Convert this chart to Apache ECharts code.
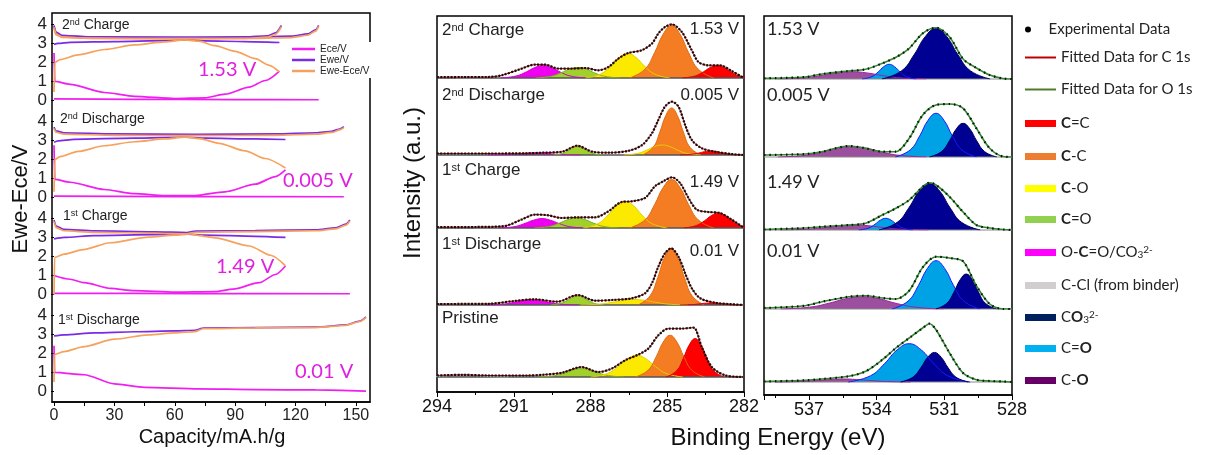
<!DOCTYPE html>
<html><head><meta charset="utf-8">
<script src="https://cdn.jsdelivr.net/npm/echarts@6/dist/echarts.min.js"></script>
<style>html,body{margin:0;padding:0;background:#fff}#c{width:1205px;height:455px}</style>
</head><body><div id="c"></div>
<script>
// ---------------- DATA ----------------
const panelLabels = ['2nd Charge', '2nd Discharge', '1st Charge', '1st Discharge', 'Pristine'];
const voltages = ['1.53 V', '0.005 V', '1.49 V', '0.01 V'];
const capTicks = [0, 30, 60, 90, 120, 150];
const capTickMarks = [0, 15, 30, 45, 60, 75, 90, 105, 120, 135, 150];
const voltTicks = [0, 1, 2, 3, 4];

// Left panel: [capacity mA.h/g, V]
// 2nd Charge
const ch2_EceCharge = [[0,0.08],[40,0.06],[90,0.05],[131.5,0.04]];
const ch2_EceDis = [[0,2.5],[0.4,1.0],[8,0.85],[25,0.42],[40,0.22],[60,0.1],[75,0.14],[85,0.33],[97,0.7],[105,1.05],[112,1.55]];
const ch2_EweCharge1 = [[0,3.95],[1,3.6],[4,3.42],[15,3.35],[40,3.32],[70,3.32],[95,3.34],[106,3.4],[110,3.55],[113,3.95]];
const ch2_EweCharge2 = [[0,3.9],[1,3.55],[4,3.4],[20,3.34],[60,3.32],[100,3.33],[118,3.38],[126,3.5],[130,3.72],[131.5,3.95]];
const ch2_EweDis = [[0,2.95],[2,3.0],[8,3.06],[30,3.1],[55,3.15],[68,3.2],[75,3.13],[95,3.1],[112,3.05]];
const ch2_DiffCharge1 = [[0,3.85],[1,3.5],[4,3.34],[15,3.28],[40,3.25],[70,3.25],[95,3.27],[106,3.33],[110,3.48],[113,3.88]];
const ch2_DiffCharge2 = [[0,3.8],[1,3.45],[4,3.32],[20,3.27],[60,3.25],[100,3.26],[118,3.31],[126,3.43],[130,3.65],[131.5,3.9]];
const ch2_DiffDis = [[0,0.45],[0.4,2.0],[3,2.15],[12,2.4],[25,2.68],[40,2.92],[55,3.08],[65,3.18],[72,3.12],[80,2.88],[90,2.58],[100,2.2],[107,1.85],[112,1.5]];
// 2nd Discharge
const dis2_EceCharge = [[0,0.07],[60,0.05],[144,0.04]];
const dis2_EceDis = [[0,2.75],[0.4,0.95],[8,0.8],[25,0.42],[40,0.2],[55,0.1],[70,0.1],[85,0.3],[100,0.7],[110,1.1],[115,1.45]];
const dis2_EweCharge = [[0,3.7],[1,3.5],[5,3.4],[30,3.34],[70,3.32],[110,3.34],[130,3.4],[138,3.48],[142,3.6],[144,3.72]];
const dis2_EweDis = [[0,2.9],[2,2.98],[10,3.06],[40,3.12],[65,3.18],[75,3.12],[100,3.08],[115,3.05]];
const dis2_DiffCharge = [[0,3.62],[1,3.43],[5,3.33],[30,3.27],[70,3.25],[110,3.27],[130,3.33],[138,3.42],[142,3.55],[144,3.67]];
const dis2_DiffDis = [[0,0.3],[0.4,2.0],[3,2.15],[12,2.42],[25,2.72],[40,2.93],[55,3.08],[65,3.17],[72,3.1],[82,2.85],[95,2.45],[105,2.05],[115,1.55]];
// 1st Charge
const ch1_EceCharge = [[0,0.06],[70,0.05],[147,0.04]];
const ch1_EceDis = [[0,1.0],[8,0.8],[15,0.62],[28,0.32],[40,0.2],[60,0.12],[80,0.15],[89,0.28],[102,0.62],[110,1.05],[115,1.5]];
const ch1_EweCharge = [[0,3.92],[1,3.6],[5,3.42],[20,3.34],[50,3.29],[66,3.26],[70,3.33],[100,3.36],[130,3.4],[140,3.5],[145,3.7],[147,3.92]];
const ch1_EweDis = [[0,2.92],[5,3.0],[20,3.1],[50,3.15],[65,3.18],[75,3.12],[100,3.06],[115,3.0]];
const ch1_DiffCharge = [[0,3.83],[1,3.52],[5,3.35],[20,3.27],[50,3.22],[66,3.19],[70,3.27],[100,3.31],[130,3.35],[140,3.45],[145,3.65],[147,3.87]];
const ch1_DiffDis = [[0,0],[0.3,1.95],[5,2.12],[14.5,2.36],[28,2.72],[47,3.02],[60,3.12],[68,3.18],[72,3.1],[80,2.98],[97,2.55],[108,2.05],[115,1.5]];
// 1st Discharge
const dis1_Ece = [[0,2.4],[0.3,1.0],[15,0.88],[30,0.4],[45,0.22],[72,0.14],[100,0.1],[130,0.08],[155,0.02]];
const dis1_Ewe = [[0,2.92],[5,2.98],[20,3.08],[40,3.14],[60,3.19],[70,3.22],[74,3.33],[100,3.36],[130,3.38],[145,3.5],[152,3.7],[155,3.92]];
const dis1_Diff = [[0,0.5],[0.3,1.95],[5,2.1],[15,2.36],[30,2.75],[47,2.98],[60,3.08],[70,3.15],[74,3.3],[100,3.34],[130,3.36],[145,3.48],[152,3.68],[155,3.9]];

// C 1s spectra: [binding energy eV, intensity a.u.]
const c1s_ch2_OCO = [[291.5,0],[290.9,2.1],[290.51,6.1],[290.18,10.4],[289.85,12.5],[289.52,10.4],[289.19,6.1],[288.81,2.1],[288.2,0]];
const c1s_ch2_CdO = [[290.15,0],[289.55,1.7],[289.16,5.1],[288.83,8.8],[288.5,10.5],[288.17,8.8],[287.84,5.1],[287.45,1.7],[286.85,0]];
const c1s_ch2_CO  = [[288.2,0],[287.6,4.0],[287.21,11.9],[286.88,20.5],[286.55,24.5],[286.22,20.5],[285.89,11.9],[285.5,4.0],[284.9,0]];
const c1s_ch2_CC  = [[286.48,0],[285.88,8.6],[285.49,25.6],[285.16,43.8],[284.83,52.5],[284.5,43.8],[284.17,25.6],[283.78,8.6],[283.18,0]];
const c1s_ch2_CdC = [[284.4,0],[283.9,2.1],[283.59,6.1],[283.32,10.4],[283.05,12.5],[282.78,10.4],[282.51,6.1],[282.2,2.1],[281.7,0]];
const c1s_ch2_env = [[294,0.8],[293,1],[292,1],[291.47,2.7],[290.69,9.4],[290.17,13.4],[289.78,13.4],[289.26,9.4],[288.73,9.4],[288.21,10],[287.69,7.7],[287.3,11],[286.91,19.4],[286.52,25],[286.0,27.7],[285.6,34.4],[285.35,44.4],[285.09,51],[284.82,53.7],[284.43,46],[284.04,27.7],[283.78,16],[283.39,12.7],[282.94,12.7],[282.48,7],[282.03,0.4]];

const c1s_dis2_OCO = [[292,0],[291.34,0.3],[290.92,1],[290.56,1.7],[290.2,2],[289.84,1.7],[289.48,1],[289.06,0.3],[288.4,0]];
const c1s_dis2_CdO = [[289.46,0],[289.11,1.4],[288.88,4.1],[288.69,7.1],[288.5,8.5],[288.31,7.1],[288.12,4.1],[287.89,1.4],[287.54,0]];
const c1s_dis2_CO  = [[286.7,0],[286.15,1.6],[285.8,4.9],[285.5,8.4],[285.2,10],[284.9,8.4],[284.6,4.9],[284.25,1.6],[283.7,0]];
const c1s_dis2_CC  = [[285.97,0],[285.55,7.7],[285.29,22.9],[285.06,39.2],[284.83,47],[284.6,39.2],[284.37,22.9],[284.11,7.7],[283.69,0]];
const c1s_dis2_CdC = [[284.5,0],[284.06,0.7],[283.78,1.9],[283.54,3.3],[283.3,4],[283.06,3.3],[282.82,1.9],[282.54,0.7],[282.1,0]];
const c1s_dis2_env = [[294,1.5],[292,1.5],[290.5,1.7],[289.9,2.3],[289.1,3.3],[288.52,9.3],[287.93,3.3],[287.28,2.3],[286.5,4.3],[285.98,10],[285.6,21.7],[285.35,35],[285.09,48.3],[284.82,53.3],[284.56,48.3],[284.3,30],[284.04,15],[283.65,6.7],[283.13,3.3],[282.5,1],[282.03,0]];

const c1s_ch1_OCO = [[291.55,0],[290.95,1.5],[290.56,4.6],[290.23,7.8],[289.9,9.4],[289.57,7.8],[289.24,4.6],[288.85,1.5],[288.25,0]];
const c1s_ch1_CdO = [[290.2,0],[289.6,1.6],[289.21,4.9],[288.88,8.4],[288.55,10],[288.22,8.4],[287.89,4.9],[287.5,1.6],[286.9,0]];
const c1s_ch1_CO  = [[288.3,0],[287.7,4.4],[287.31,13],[286.98,22.3],[286.65,26.7],[286.32,22.3],[285.99,13],[285.6,4.4],[285.0,0]];
const c1s_ch1_CC  = [[286.48,0],[285.88,7.9],[285.49,23.6],[285.16,40.4],[284.83,48.4],[284.5,40.4],[284.17,23.6],[283.78,7.9],[283.18,0]];
const c1s_ch1_CdC = [[284.35,0],[283.86,2.5],[283.54,7.3],[283.27,12.5],[283.0,15],[282.73,12.5],[282.46,7.3],[282.15,2.5],[281.65,0]];
const c1s_ch1_env = [[294,0.8],[292.5,1],[291.35,2],[290.7,8.4],[290.17,13.4],[289.65,12.7],[289.13,10],[288.47,10.7],[287.82,10.7],[287.3,16.7],[286.78,26],[286.39,26.7],[285.87,30],[285.48,41.7],[285.15,46.7],[284.82,50.7],[284.5,45],[284.17,30],[283.85,18.4],[283.39,16],[282.94,15],[282.48,8.4],[282.03,0.7]];

const c1s_dis1_OCO = [[292.1,0],[291.44,0.8],[291.02,2.4],[290.66,4.2],[290.3,5],[289.94,4.2],[289.58,2.4],[289.16,0.8],[288.5,0]];
const c1s_dis1_CdO = [[289.55,0],[289.17,1.5],[288.92,4.4],[288.71,7.5],[288.5,9],[288.29,7.5],[288.08,4.4],[287.84,1.5],[287.45,0]];
const c1s_dis1_CO  = [[288.4,0],[287.63,0.9],[287.14,2.7],[286.72,4.6],[286.3,5.5],[285.88,4.6],[285.46,2.7],[284.97,0.9],[284.2,0]];
const c1s_dis1_CC  = [[286.14,0],[285.67,9.3],[285.37,27.6],[285.11,47.3],[284.85,56.7],[284.59,47.3],[284.33,27.6],[284.03,9.3],[283.56,0]];
const c1s_dis1_CdC = [[284.5,0],[284.06,0.3],[283.78,1],[283.54,1.7],[283.3,2],[283.06,1.7],[282.82,1],[282.54,0.3],[282.1,0]];
const c1s_dis1_env = [[294,1],[292,1.2],[290.98,4],[290.2,5.7],[289.3,3.3],[288.5,10],[287.82,4.3],[287.17,5],[286.39,6.7],[285.87,11.7],[285.6,21.7],[285.35,38.3],[285.09,51.7],[284.85,56.7],[284.56,48.3],[284.3,31.7],[284.04,16.7],[283.71,6.7],[283.13,2.3],[282.5,0.8],[282.03,0]];

const c1s_pri_CCl = [[294.8,0],[294.14,0.3],[293.72,1],[293.36,1.7],[293,2],[292.64,1.7],[292.28,1],[291.86,0.3],[291.2,0]];
const c1s_pri_CdO = [[290,0],[289.4,1.4],[289.01,4.1],[288.68,7],[288.35,8.4],[288.02,7],[287.69,4.1],[287.3,1.4],[286.7,0]];
const c1s_pri_CO  = [[287.99,0],[287.33,3.6],[286.91,10.6],[286.55,18.1],[286.19,21.7],[285.83,18.1],[285.47,10.6],[285.05,3.6],[284.39,0]];
const c1s_pri_CC  = [[286.24,0],[285.75,6.8],[285.43,20.3],[285.16,34.8],[284.89,41.7],[284.62,34.8],[284.35,20.3],[284.04,6.8],[283.54,0]];
const c1s_pri_CdC = [[285.05,0],[284.63,6.3],[284.37,18.7],[284.14,32.1],[283.91,38.4],[283.68,32.1],[283.45,18.7],[283.19,6.3],[282.77,0]];
const c1s_pri_env = [[294,1.5],[293,2.2],[292,1.5],[290.5,1.5],[289.8,2.3],[289.1,4.4],[288.35,10],[287.69,5],[287.17,8.4],[286.65,16.7],[286.13,22.4],[285.74,28.4],[285.35,41.7],[284.95,48.4],[284.43,48.4],[283.98,49.4],[283.65,30],[283.26,10],[282.74,1.7],[282.03,0]];
const c1s_background = [[294,0],[282,0]];

// O 1s spectra
const o1s_ch2_CO  = [[538.4,0],[537.19,1.2],[536.42,3.6],[535.76,6.1],[535.1,7.3],[534.44,6.1],[533.78,3.6],[533.01,1.2],[531.8,0]];
const o1s_ch2_CdO = [[534.65,0],[534.21,2.4],[533.93,7.2],[533.69,12.3],[533.45,14.7],[533.21,12.3],[532.97,7.2],[532.69,2.4],[532.25,0]];
const o1s_ch2_CO3 = [[533.77,0],[532.89,8.3],[532.33,24.7],[531.85,42.3],[531.37,50.7],[530.89,42.3],[530.41,24.7],[529.85,8.3],[528.97,0]];
const o1s_ch2_env = [[539,0.7],[537.17,2],[536.42,5],[535.24,8],[534.49,9.7],[533.75,15.7],[533.15,21.7],[532.56,30.7],[531.96,45.7],[531.37,51.3],[530.77,42],[530.17,20],[529.58,11],[528.99,4],[528.4,0.5],[528,0]];

const o1s_dis2_CO  = [[538.39,0],[537.18,1.7],[536.41,5],[535.75,8.6],[535.09,10.3],[534.43,8.6],[533.77,5],[533.0,1.7],[531.79,0]];
const o1s_dis2_CdO = [[533.17,0],[532.51,7.2],[532.09,21.3],[531.73,36.5],[531.37,43.7],[531.01,36.5],[530.65,21.3],[530.23,7.2],[529.57,0]];
const o1s_dis2_CO3 = [[531.67,0],[531.12,5.5],[530.77,16.4],[530.47,28.1],[530.17,33.7],[529.87,28.1],[529.57,16.4],[529.22,5.5],[528.67,0]];
const o1s_dis2_env = [[539,2],[537.17,3],[536.42,5.3],[535.24,11],[534.49,8.7],[533.75,5.3],[533.15,5.3],[532.56,18.7],[531.96,42],[531.37,52],[530.77,53],[530.17,48.7],[529.58,28.7],[528.99,8.7],[528.4,0.5],[528,0]];

const o1s_ch1_CO  = [[538.3,0],[537.09,0.8],[536.32,2.4],[535.66,4.2],[535,5],[534.34,4.2],[533.68,2.4],[532.91,0.8],[531.7,0]];
const o1s_ch1_CdO = [[534.8,0],[534.36,1.9],[534.08,5.7],[533.84,9.8],[533.6,11.7],[533.36,9.8],[533.12,5.7],[532.84,1.9],[532.4,0]];
const o1s_ch1_CO3 = [[533.91,0],[533.09,7.7],[532.56,22.7],[532.11,39],[531.66,46.7],[531.21,39],[530.76,22.7],[530.24,7.7],[529.41,0]];
const o1s_ch1_env = [[539,0.5],[537.17,2],[536.42,3.3],[535.24,5],[534.49,6.7],[533.75,15],[533.15,21.7],[532.56,30],[531.96,43.3],[531.66,47.3],[531.37,45],[530.77,33.3],[530.17,18],[529.58,5],[528.99,2],[528.4,0.5],[528,0]];

const o1s_dis1_CO  = [[538.24,0],[536.92,2],[536.08,6],[535.36,10.3],[534.64,12.3],[533.92,10.3],[533.2,6],[532.36,2],[531.04,0]];
const o1s_dis1_CdO = [[533.32,0],[532.61,7.9],[532.15,23.5],[531.76,40.3],[531.37,48.3],[530.98,40.3],[530.59,23.5],[530.14,7.9],[529.42,0]];
const o1s_dis1_CO3 = [[531.38,0],[530.89,5.7],[530.57,17],[530.3,29.2],[530.03,35],[529.76,29.2],[529.49,17],[529.18,5.7],[528.68,0]];
const o1s_dis1_env = [[539,1],[537.17,3.3],[536.42,7.3],[535.24,12.3],[534.49,13.3],[533.75,11],[533.15,10],[532.56,18.3],[531.96,41.7],[531.37,52.3],[530.77,51],[530.17,47.7],[529.58,23.3],[528.99,5],[528.4,0],[528,0]];

const o1s_pri_CO  = [[538.5,0],[537.4,0.5],[536.7,1.5],[536.1,2.5],[535.5,3],[534.9,2.5],[534.3,1.5],[533.6,0.5],[532.5,0]];
const o1s_pri_CdO = [[535.26,0],[534.27,6.3],[533.64,18.7],[533.1,32],[532.56,38.3],[532.02,32],[531.48,18.7],[530.85,6.3],[529.86,0]];
const o1s_pri_CO3 = [[532.94,0],[532.39,4.9],[532.04,14.4],[531.74,24.7],[531.44,29.6],[531.14,24.7],[530.84,14.4],[530.49,4.9],[529.94,0]];
const o1s_pri_env = [[539,0.5],[537.17,1.7],[536.42,3],[535.24,5.7],[534.49,10.7],[533.75,22.3],[533.15,34],[532.56,44],[531.96,54],[531.66,58.3],[531.37,52.3],[530.77,29],[530.17,9],[529.58,2.3],[528.99,1],[528.4,0.5],[528,0]];
const o1s_background = [[539,0],[528,0]];

// Legend names and labels
const legendNames = ['Experimental Data','Fitted Data for C 1s','Fitted Data for O 1s','C=C','C-C','C-O (C 1s)','C=O (C 1s)','O-C=O/CO3 2-','C-Cl (from binder)','CO3 2- (O 1s)','C=O (O 1s)','C-O (O 1s)'];
const legendLabels = ['Experimental Data','Fitted Data for C 1s','Fitted Data for O 1s','{b|C}=C','{b|C}-C','{b|C}-O','{b|C}=O','O-{b|C}=O/CO{sub|3}{sup|2-}','C-Cl (from binder)','C{b|O}{sub|3}{sup|2-}','C={b|O}','C-{b|O}'];

// ---------------- STYLE / LAYOUT ----------------
const FA = '"Liberation Sans", Arial, sans-serif';
const FN = '"Liberation Sans Narrow", "Liberation Sans", Arial, sans-serif';
const FC = 'Lato, "Open Sans", sans-serif';
const ECE = '#f01ef0', EWE = '#7a2be6', DIFF = '#f6a25c';
const FILL = {
  'C=C':['#ff0000','#e00000'], 'C-C':['#f47c22','#e06a10'], 'C-O (C 1s)':['#fbe900','#e0cf00'],
  'C=O (C 1s)':['#9fd02c','#7cb01a'], 'O-C=O/CO3 2-':['#f000f0','#d000d0'], 'C-Cl (from binder)':['#c8c8c8','#aaaaaa'],
  'CO3 2- (O 1s)':['#000093','#000060'], 'C=O (O 1s)':['#00a2e6','#1a1aff'], 'C-O (O 1s)':['#9c4f9e','#a020a0']
};
const legendColors = ['#000','#c00000','#4e7a27','#ff0000','#ed7d31','#ffff00','#92d050','#ff00ff','#d0cece','#002060','#00b0f0','#660066'];
const legendY = [32,60,92,126,159,191,222,255,288,320,351,383];

const grid = [], xAxis = [], yAxis = [], series = [];
function addGrid(g, xa, ya) {
  grid.push(g); const i = grid.length - 1;
  xAxis.push(Object.assign({gridIndex: i, type: 'value', splitLine: {show: false}}, xa));
  yAxis.push(Object.assign({gridIndex: i, type: 'value', splitLine: {show: false}}, ya));
  return i;
}
function line(name, gi, data, opts) {
  series.push(Object.assign({type: 'line', name, xAxisIndex: gi, yAxisIndex: gi, data, symbol: 'none', showSymbol: false, animation: false}, opts));
}

// ---- Left panel ----
addGrid({left: 52, top: 13, width: 318, height: 389, show: true, borderColor: '#000', borderWidth: 1.5},
  {min: -1, max: 157, axisLine: {show: true, lineStyle: {color: '#000', width: 1.5}},
   axisTick: {show: true, customValues: capTickMarks, length: 4, lineStyle: {color: '#000'}},
   axisLabel: {customValues: capTicks, fontSize: 16, color: '#222', margin: 6, fontFamily: FN}},
  {min: 0, max: 1, show: false});
const leftPanels = [
  [['Ece/V', ch2_EceCharge], ['Ece/V', ch2_EceDis], ['Ewe/V', ch2_EweCharge1], ['Ewe/V', ch2_EweCharge2], ['Ewe/V', ch2_EweDis], ['Ewe-Ece/V', ch2_DiffCharge1], ['Ewe-Ece/V', ch2_DiffCharge2], ['Ewe-Ece/V', ch2_DiffDis]],
  [['Ece/V', dis2_EceCharge], ['Ece/V', dis2_EceDis], ['Ewe/V', dis2_EweCharge], ['Ewe/V', dis2_EweDis], ['Ewe-Ece/V', dis2_DiffCharge], ['Ewe-Ece/V', dis2_DiffDis]],
  [['Ece/V', ch1_EceCharge], ['Ece/V', ch1_EceDis], ['Ewe/V', ch1_EweCharge], ['Ewe/V', ch1_EweDis], ['Ewe-Ece/V', ch1_DiffCharge], ['Ewe-Ece/V', ch1_DiffDis]],
  [['Ece/V', dis1_Ece], ['Ewe/V', dis1_Ewe], ['Ewe-Ece/V', dis1_Diff]]
];
const leftColor = {'Ece/V': ECE, 'Ewe/V': EWE, 'Ewe-Ece/V': DIFF};
leftPanels.forEach((curves, k) => {
  const gi = addGrid({left: 52, top: 13 + 97 * k, width: 318, height: 97},
    {min: -1, max: 157, show: false},
    {min: -0.5, max: 4.6, axisLine: {show: false},
     axisTick: {show: true, customValues: voltTicks, length: 3, lineStyle: {color: '#000'}},
     axisLabel: {customValues: voltTicks, fontSize: 17, color: '#222', margin: 5, fontFamily: FA}});
  curves.forEach(([name, data]) => line(name, gi, data, {
    smooth: 0.25, smoothMonotone: 'x', color: leftColor[name],
    itemStyle: {color: leftColor[name]}, lineStyle: {color: leftColor[name], width: 1.7}}));
});

// ---- XPS panels ----
function xpsPanel(frame, xr, showMax, tops, bottoms, lastBase, panels, bg, bgColor, bgWidth, fitName, fitColor, dotType) {
  addGrid({left: frame.left, top: frame.top, width: frame.width, height: frame.height, show: true, borderColor: '#000', borderWidth: 1.5},
    {min: xr[0], max: xr[1], inverse: true, interval: 3,
     axisLine: {show: true, lineStyle: {color: '#000', width: 1.5}},
     axisTick: {show: true, length: 5, lineStyle: {color: '#000'}},
     minorTick: {show: true, splitNumber: 2, length: 3, lineStyle: {color: '#000'}},
     axisLabel: {fontSize: 18, color: '#111', margin: 6, fontFamily: FA, showMaxLabel: showMax, showMinLabel: true}},
    {min: 0, max: 1, show: false});
  panels.forEach((p, k) => {
    const top = tops[k], bottom = bottoms[k];
    const base = k === panels.length - 1 ? lastBase : bottom;
    const gi = addGrid({left: frame.left, top, width: frame.width, height: bottom - top},
      {min: xr[0], max: xr[1], inverse: true, show: false},
      {min: base - bottom, max: base - top, show: false});
    line('Background', gi, bg, {clip: false, lineStyle: {color: bgColor, width: bgWidth}, itemStyle: {color: bgColor}, z: 3});
    p.comps.forEach(([name, data]) => line(name, gi, data, {
      smooth: 0.45, color: FILL[name][0], itemStyle: {color: FILL[name][0]},
      lineStyle: {color: FILL[name][1], width: 1}, areaStyle: {color: FILL[name][0], opacity: 1}}));
    line(fitName, gi, p.env, {smooth: 0.3, color: fitColor, itemStyle: {color: fitColor}, lineStyle: {color: fitColor, width: fitName.indexOf('O 1s') > 0 ? 1.6 : 1}, z: 4});
    line('Experimental Data', gi, p.env, {smooth: 0.3, color: '#000', itemStyle: {color: '#000'}, lineStyle: {color: '#111', width: 2.2, type: dotType}, z: 5});
  });
}
xpsPanel({left: 437, top: 16, width: 307, height: 376}, [282, 294], true,
  [16, 78, 155, 228, 305], [78, 155, 228, 305, 392], 377,
  [
    {comps: [['O-C=O/CO3 2-', c1s_ch2_OCO], ['C=O (C 1s)', c1s_ch2_CdO], ['C-O (C 1s)', c1s_ch2_CO], ['C-C', c1s_ch2_CC], ['C=C', c1s_ch2_CdC]], env: c1s_ch2_env},
    {comps: [['O-C=O/CO3 2-', c1s_dis2_OCO], ['C=O (C 1s)', c1s_dis2_CdO], ['C-O (C 1s)', c1s_dis2_CO], ['C-C', c1s_dis2_CC], ['C=C', c1s_dis2_CdC]], env: c1s_dis2_env},
    {comps: [['O-C=O/CO3 2-', c1s_ch1_OCO], ['C=O (C 1s)', c1s_ch1_CdO], ['C-O (C 1s)', c1s_ch1_CO], ['C-C', c1s_ch1_CC], ['C=C', c1s_ch1_CdC]], env: c1s_ch1_env},
    {comps: [['O-C=O/CO3 2-', c1s_dis1_OCO], ['C=O (C 1s)', c1s_dis1_CdO], ['C-O (C 1s)', c1s_dis1_CO], ['C-C', c1s_dis1_CC], ['C=C', c1s_dis1_CdC]], env: c1s_dis1_env},
    {comps: [['C-Cl (from binder)', c1s_pri_CCl], ['C=O (C 1s)', c1s_pri_CdO], ['C-O (C 1s)', c1s_pri_CO], ['C-C', c1s_pri_CC], ['C=C', c1s_pri_CdC]], env: c1s_pri_env}
  ], c1s_background, '#555', 1.3, 'Fitted Data for C 1s', '#c00000', [2, 1.4]);
xpsPanel({left: 764, top: 16, width: 248, height: 379}, [528, 539], false,
  [16, 79, 157, 230, 309], [79, 157, 230, 309, 395], 382,
  [
    {comps: [['C-O (O 1s)', o1s_ch2_CO], ['C=O (O 1s)', o1s_ch2_CdO], ['CO3 2- (O 1s)', o1s_ch2_CO3]], env: o1s_ch2_env},
    {comps: [['C-O (O 1s)', o1s_dis2_CO], ['C=O (O 1s)', o1s_dis2_CdO], ['CO3 2- (O 1s)', o1s_dis2_CO3]], env: o1s_dis2_env},
    {comps: [['C-O (O 1s)', o1s_ch1_CO], ['C=O (O 1s)', o1s_ch1_CdO], ['CO3 2- (O 1s)', o1s_ch1_CO3]], env: o1s_ch1_env},
    {comps: [['C-O (O 1s)', o1s_dis1_CO], ['C=O (O 1s)', o1s_dis1_CdO], ['CO3 2- (O 1s)', o1s_dis1_CO3]], env: o1s_dis1_env},
    {comps: [['C-O (O 1s)', o1s_pri_CO], ['C=O (O 1s)', o1s_pri_CdO], ['CO3 2- (O 1s)', o1s_pri_CO3]], env: o1s_pri_env}
  ], o1s_background, '#8a8a8a', 1, 'Fitted Data for O 1s', '#2f8a2f', [1.5, 4]);

// ---- Legends ----
const richL = {
  b: {fontWeight: 'bold', fontSize: 15, fontFamily: FC, color: '#222'},
  sub: {fontSize: 10, fontFamily: FC, color: '#222', verticalAlign: 'bottom'},
  sup: {fontSize: 10, fontFamily: FC, color: '#222', verticalAlign: 'top'}
};
const legends = [{
  orient: 'vertical', left: 289, top: 42, itemWidth: 23, itemHeight: 2.5, itemGap: 1, icon: 'rect',
  padding: [2, 3, 2, 3], backgroundColor: '#fff',
  textStyle: {fontSize: 10, fontFamily: FA, color: '#222'},
  data: [{name: 'Ece/V', itemStyle: {color: ECE, borderWidth: 0}}, {name: 'Ewe/V', itemStyle: {color: EWE, borderWidth: 0}}, {name: 'Ewe-Ece/V', itemStyle: {color: DIFF, borderWidth: 0}}]
}];
legendNames.forEach((n, i) => {
  const kind = i === 0 ? 'dot' : (i < 3 ? 'line' : 'rect');
  legends.push({
    orient: 'vertical', left: 1025, top: legendY[i] - 10, padding: 0, itemGap: 0,
    itemWidth: 31, itemHeight: kind === 'dot' ? 6 : (kind === 'line' ? 2 : 7),
    icon: kind === 'dot' ? 'circle' : 'rect',
    data: [{name: n, itemStyle: {color: legendColors[i], borderWidth: 0}}],
    formatter: () => legendLabels[i],
    textStyle: {fontSize: 15, fontFamily: FC, color: '#222', rich: richL}
  });
});

// ---- Annotations ----
const supRich = (size, color, font) => ({sup: {fontSize: size, fill: color, fontFamily: font, verticalAlign: 'top'}});
function supText(s) { return s.replace(/^(\d)(st|nd|rd|th)/, '$1{sup|$2}'); }
const graphic = [];
const leftLabelPos = [[62, 18], [60, 112], [63, 209], [58, 313]];
const leftVoltPos = [[198, 60], [283, 171], [216, 257], [295, 362]];
panelLabels.slice(0, 4).forEach((t, k) => {
  graphic.push({type: 'text', left: leftLabelPos[k][0], top: leftLabelPos[k][1], z: 10,
    style: {text: supText(t), fontSize: 14, fontFamily: FA, fill: '#222', rich: supRich(9, '#222', FA)}});
  graphic.push({type: 'text', left: leftVoltPos[k][0], top: leftVoltPos[k][1], z: 10,
    style: {text: voltages[k], fontSize: 20, fontFamily: FC, fill: '#e020e0'}});
});
const midLabelTop = [22, 87, 162, 236, 310];
const midVoltTop = [21, 87, 174, 243];
panelLabels.forEach((t, k) => {
  graphic.push({type: 'text', left: 442, top: midLabelTop[k], z: 10,
    style: {text: supText(t), fontSize: 17, fontFamily: FA, fill: '#222', rich: supRich(11, '#222', FA)}});
});
const rightVoltTop = [20, 86, 173, 242];
voltages.forEach((v, k) => {
  graphic.push({type: 'text', right: 466, top: midVoltTop[k], z: 10, style: {text: v, fontSize: 17, fontFamily: FA, fill: '#222'}});
  graphic.push({type: 'text', left: 767, top: rightVoltTop[k], z: 10, style: {text: v, fontSize: 18, fontFamily: FC, fill: '#222'}});
});
graphic.push({type: 'text', x: 21, y: 199, rotation: Math.PI / 2, z: 10, style: {text: 'Ewe-Ece/V', fontSize: 22, fontFamily: FA, fill: '#111', align: 'center', verticalAlign: 'middle'}});
graphic.push({type: 'text', x: 212, y: 437, z: 10, style: {text: 'Capacity/mA.h/g', fontSize: 20, fontFamily: FA, fill: '#111', align: 'center', verticalAlign: 'middle'}});
graphic.push({type: 'text', x: 413, y: 183, rotation: Math.PI / 2, z: 10, style: {text: 'Intensity (a.u.)', fontSize: 24, fontFamily: FA, fill: '#111', align: 'center', verticalAlign: 'middle'}});
graphic.push({type: 'text', x: 778, y: 438, z: 10, style: {text: 'Binding Energy (eV)', fontSize: 24, fontFamily: FA, fill: '#111', align: 'center', verticalAlign: 'middle'}});

const chart = echarts.init(document.getElementById('c'), null, {renderer: 'canvas', width: 1205, height: 455});
chart.setOption({animation: false, backgroundColor: '#fff', grid, xAxis, yAxis, series, legend: legends, graphic});
</script></body></html>
